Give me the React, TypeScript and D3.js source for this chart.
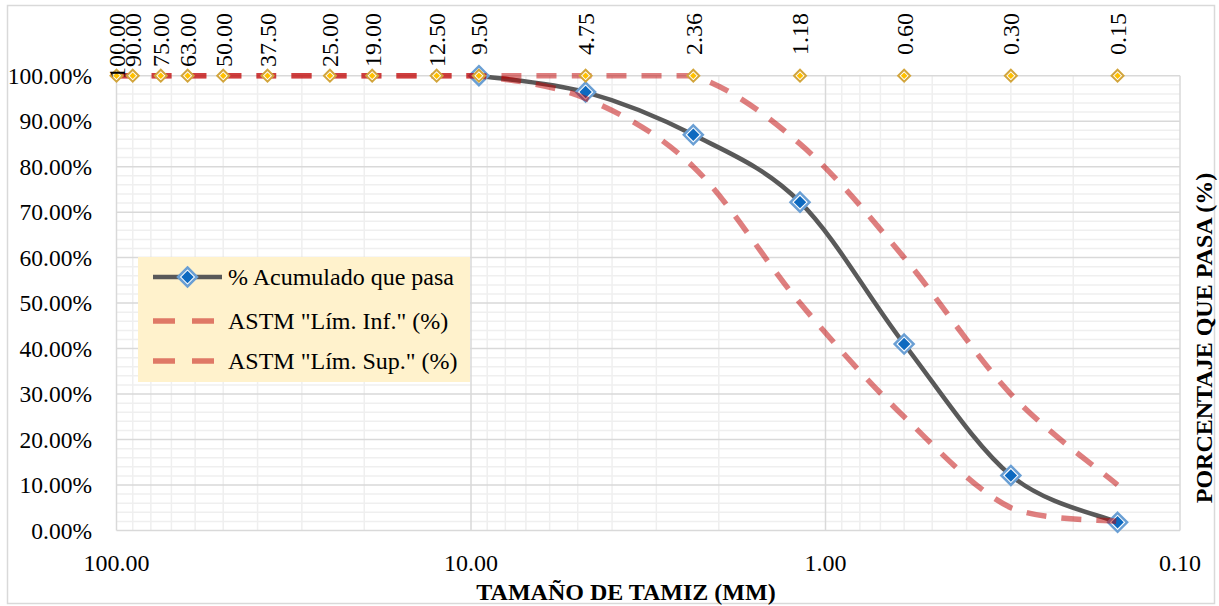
import React from "react";
import * as d3 from "d3";

// Sieve openings (mm) and their printed labels
const sieveSizes = [100, 90, 75, 63, 50, 37.5, 25, 19, 12.5, 9.5, 4.75, 2.36, 1.18, 0.6, 0.3, 0.15];
const sieveLabels = ["100.00", "90.00", "75.00", "63.00", "50.00", "37.50", "25.00", "19.00", "12.50", "9.50", "4.75", "2.36", "1.18", "0.60", "0.30", "0.15"];

// Cumulative percent passing (sample) – only measured from 9.5 mm down
const passingPct: (number | null)[] = [null, null, null, null, null, null, null, null, null, 100, 96.4, 87.0, 72.2, 41.0, 12.1, 1.8];
// ASTM grading limits (%)
const lowerLimit = [100, 100, 100, 100, 100, 100, 100, 100, 100, 100, 95, 80, 50, 25, 5, 2];
const upperLimit = [100, 100, 100, 100, 100, 100, 100, 100, 100, 100, 100, 100, 85, 60, 30, 10];
// Reference row drawn at 100 % to carry the sieve labels
const labelRow = sieveSizes.map(() => 100);

const xTicks = [100, 10, 1, 0.1];
const yTicks = [0, 10, 20, 30, 40, 50, 60, 70, 80, 90, 100];

const legendItems = ["% Acumulado que pasa", 'ASTM "Lím. Inf." (%)', 'ASTM "Lím. Sup." (%)'];

const W = 1219;
const H = 606;
const FONT = "Liberation Serif, Tinos, Times New Roman, DejaVu Serif, serif";

const x = d3.scaleLog().domain([100, 0.1]).range([116.5, 1180]);
const y = d3.scaleLinear().domain([0, 100]).range([530.5, 75.7]);

const diamond = (r: number) => `M0,${-r}L${r},0L0,${r}L${-r},0Z`;

// Smoothed polyline (cardinal spline, tension 0) whose control points are kept
// inside each segment's vertical span, so flat runs stay flat.
function smoothPath(pts: [number, number][]): string {
  const p = pts.map((d) => [x(d[0]), y(d[1])] as [number, number]);
  const path = d3.path();
  if (!p.length) return "";
  path.moveTo(p[0][0], p[0][1]);
  const clamp = (v: number, a: number, b: number) => Math.max(Math.min(a, b), Math.min(Math.max(a, b), v));
  for (let i = 0; i < p.length - 1; i++) {
    const p0 = p[Math.max(i - 1, 0)];
    const p1 = p[i];
    const p2 = p[i + 1];
    const p3 = p[Math.min(i + 2, p.length - 1)];
    const c1x = p1[0] + (p2[0] - p0[0]) / 6;
    const c1y = clamp(p1[1] + (p2[1] - p0[1]) / 6, p1[1], p2[1]);
    const c2x = p2[0] - (p3[0] - p1[0]) / 6;
    const c2y = clamp(p2[1] - (p3[1] - p1[1]) / 6, p1[1], p2[1]);
    path.bezierCurveTo(c1x, c1y, c2x, c2y, p2[0], p2[1]);
  }
  return path.toString();
}

function BlueMarker({ cx, cy }: { cx: number; cy: number }) {
  return (
    <g transform={`translate(${cx},${cy})`}>
      <path d={diamond(9.5)} fill="#ffffff" stroke="#6A9FD4" strokeWidth={2.5} />
      <path d={diamond(6.2)} fill="#0E6AC0" />
    </g>
  );
}

function GoldMarker({ cx, cy }: { cx: number; cy: number }) {
  return (
    <g transform={`translate(${cx},${cy})`}>
      <path d={diamond(6)} fill="#ffffff" stroke="#D2A53C" strokeWidth={2} />
      <path d={diamond(3.3)} fill="#FFC000" />
    </g>
  );
}

export default function App() {
  const pts = (vals: (number | null)[]) =>
    sieveSizes
      .map((s, i) => [s, vals[i]] as [number, number | null])
      .filter((d) => d[1] !== null) as [number, number][];

  const mainPts = pts(passingPct);
  const lowPts = pts(lowerLimit);
  const upPts = pts(upperLimit);

  // minor grid positions
  const minorX: number[] = [];
  [100, 10, 1].forEach((dec) => {
    for (let k = 2; k <= 9; k++) minorX.push((dec / 10) * k);
  });
  const minorY: number[] = [];
  for (let v = 0; v <= 100; v += 2) if (v % 10 !== 0) minorY.push(v);

  const [x0, x1] = x.range();
  const [y0, y1] = y.range();

  return (
    <svg
      width={W}
      height={H}
      fontFamily={FONT}
      style={{ position: "absolute", left: 0, top: 0 }}
    >
      <rect x={0} y={0} width={W} height={H} fill="#ffffff" />
      <rect x={7.5} y={5.5} width={1207} height={598} fill="none" stroke="#D9D9D9" strokeWidth={1.5} />

      {/* minor gridlines */}
      <g stroke="#EFEFEF" strokeWidth={1.5}>
        {minorX.map((v) => (
          <line key={"mx" + v} x1={x(v)} x2={x(v)} y1={y1} y2={y0} />
        ))}
        {minorY.map((v) => (
          <line key={"my" + v} x1={x0} x2={x1} y1={y(v)} y2={y(v)} />
        ))}
      </g>
      {/* major gridlines */}
      <g stroke="#D9D9D9" strokeWidth={1.5}>
        {xTicks.map((v) => (
          <line key={"Mx" + v} x1={x(v)} x2={x(v)} y1={y1} y2={y0} />
        ))}
        {yTicks.map((v) => (
          <line key={"My" + v} x1={x0} x2={x1} y1={y(v)} y2={y(v)} />
        ))}
      </g>

      {/* y tick labels */}
      <g fontSize={23.5} fill="#000" textAnchor="end">
        {yTicks.map((v) => (
          <text key={"yt" + v} x={92} y={y(v)} dy="0.35em">
            {v.toFixed(2) + "%"}
          </text>
        ))}
      </g>
      {/* x tick labels */}
      <g fontSize={24} fill="#000" textAnchor="middle">
        {xTicks.map((v) => (
          <text key={"xt" + v} x={x(v)} y={563} dy="0.35em">
            {v.toFixed(2)}
          </text>
        ))}
      </g>

      {/* axis titles */}
      <text x={626} y={592} dy="0.35em" textAnchor="middle" fontSize={24} fontWeight="bold">
        TAMAÑO DE TAMIZ  (MM)
      </text>
      <text
        transform={`translate(1204,338) rotate(-90)`}
        dy="0.35em"
        textAnchor="middle"
        fontSize={24}
        fontWeight="bold"
      >
        PORCENTAJE QUE PASA (%)
      </text>

      {/* sample curve */}
      <path d={smoothPath(mainPts)} fill="none" stroke="#595959" strokeWidth={4.5} />
      {mainPts.map((d, i) => (
        <BlueMarker key={"bm" + i} cx={x(d[0])} cy={y(d[1])} />
      ))}

      {/* ASTM limits */}
      <path
        d={smoothPath(lowPts)}
        fill="none"
        stroke="#C00000"
        strokeOpacity={0.5}
        strokeWidth={5.5}
        strokeDasharray="20 15"
      />
      <path
        d={smoothPath(upPts)}
        fill="none"
        stroke="#C00000"
        strokeOpacity={0.5}
        strokeWidth={5.5}
        strokeDasharray="20 15"
      />

      {/* sieve label row */}
      {labelRow.map((v, i) => (
        <GoldMarker key={"gm" + i} cx={x(sieveSizes[i])} cy={y(v)} />
      ))}
      <g fontSize={24} fill="#000">
        {sieveLabels.map((t, i) => (
          <text
            key={"sl" + i}
            transform={`translate(${x(sieveSizes[i])},13) rotate(-90)`}
            textAnchor="end"
            dy="0.35em"
          >
            {t}
          </text>
        ))}
      </g>

      {/* legend */}
      <rect x={138} y={257} width={332} height={125} fill="#FFF2CC" />
      <g fontSize={24} fill="#000">
        <line x1={153} x2={222} y1={277} y2={277} stroke="#595959" strokeWidth={4.5} />
        <BlueMarker cx={187.5} cy={277} />
        <text x={228} y={277} dy="0.35em">{legendItems[0]}</text>

        <line x1={153} x2={222} y1={321} y2={321} stroke="#C00000" strokeOpacity={0.5} strokeWidth={5.5} strokeDasharray="22 17" />
        <text x={228} y={321} dy="0.35em">{legendItems[1]}</text>

        <line x1={153} x2={222} y1={361} y2={361} stroke="#C00000" strokeOpacity={0.5} strokeWidth={5.5} strokeDasharray="22 17" />
        <text x={228} y={361} dy="0.35em">{legendItems[2]}</text>
      </g>
    </svg>
  );
}
